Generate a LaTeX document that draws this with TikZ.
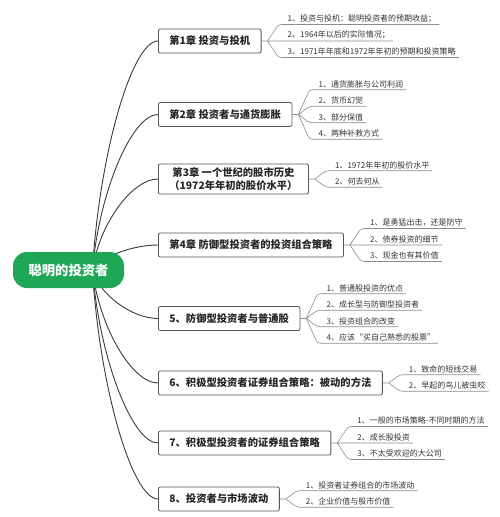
\documentclass[tikz,border=0pt]{standalone}
\usepackage{fontspec}
\setmainfont{Noto Sans CJK SC}
\usetikzlibrary{calc,backgrounds}
\definecolor{MapGreen}{HTML}{1EA855}
\definecolor{MapLine}{HTML}{3A3A3A}
\definecolor{MapEdge}{HTML}{555555}
\definecolor{MapTwig}{HTML}{8C8C8C}
\definecolor{MapText}{HTML}{333333}

\begin{document}
\begin{tikzpicture}[x=1pt, y=-1pt,
  root/.style={fill=MapGreen, text=white, rounded corners=14pt,
               minimum width=111pt, minimum height=36pt,
               font=\fontsize{13.3}{16}\selectfont\bfseries},
  chap/.style={draw=MapEdge, line width=0.8pt, rounded corners=2pt,
               fill=white, anchor=west, inner xsep=11pt, minimum height=24pt,
               align=center, text=black!85,
               font=\fontsize{10.3}{13.5}\selectfont\bfseries},
  leaf/.style={anchor=south west, inner xsep=3pt, inner ysep=1.8pt,
               text=MapText, font=\fontsize{8}{9}\selectfont},
  branch/.style={draw=MapLine, line width=0.9pt,
                 to path={let \p1=(\tikztostart), \p2=(\tikztotarget) in
                   .. controls ({\x1+0.1*(\x2-\x1)},{\y1+0.5*(\y2-\y1)})
                   and ({\x2-0.4*(\x2-\x1)},\y2) .. (\tikztotarget)}},
  twig/.style={draw=MapTwig, line width=0.6pt, rounded corners=3pt}
]
\useasboundingbox (0,0) rectangle (500,517);

\node[root] (root) at (68.5,270) {聪明的投资者};

\node[chap] (c1) at (158,41) {第1章 投资与投机};
\node[chap] (c2) at (158,114.5) {第2章 投资者与通货膨胀};
\node[chap] (c3) at (158,179)
  {第3章 一个世纪的股市历史\\（1972年年初的股价水平）};
\node[chap] (c4) at (158,245) {第4章 防御型投资者的投资组合策略};
\node[chap] (c5) at (158,318.5) {5、防御型投资者与普通股};
\node[chap] (c6) at (158,383) {6、积极型投资者证券组合策略：被动的方法};
\node[chap] (c7) at (158,443) {7、积极型投资者的证券组合策略};
\node[chap] (c8) at (158,499) {8、投资者与市场波动};

\coordinate (hub) at ([xshift=24pt]root.center);
\begin{scope}[on background layer]
  \draw[branch] (hub) to (c1.west);
  \draw[branch] (hub) to (c2.west);
  \draw[branch] (hub) to (c3.west);
  \draw[branch] (hub) to (c4.west);
  \draw[branch] (hub) to (c5.west);
  \draw[branch] (hub) to (c6.west);
  \draw[branch] (hub) to (c7.west);
  \draw[branch] (hub) to (c8.west);
\end{scope}

% chapter 1
\node[leaf] (s1a) at ($(c1.east)+(23,-16.5)$) {1、投资与投机：聪明投资者的预期收益；};
\node[leaf] (s1b) at ($(c1.east)+(23,0)$) {2、1964年以后的实际情况；};
\node[leaf] (s1c) at ($(c1.east)+(23,16.5)$) {3、1971年年底和1972年年初的预期和投资策略};
\draw[twig] (c1.east) -- ++(6,0) coordinate (k1)
  (k1) -- ([xshift=-6pt]s1a.south west) -- (s1a.south east)
  (k1) -- ([xshift=-6pt]s1b.south west) -- (s1b.south east)
  (k1) -- ([xshift=-6pt]s1c.south west) -- (s1c.south east);

% chapter 2
\node[leaf] (s2a) at ($(c2.east)+(23,-24.75)$) {1、通货膨胀与公司利润};
\node[leaf] (s2b) at ($(c2.east)+(23,-8.25)$) {2、货币幻觉};
\node[leaf] (s2c) at ($(c2.east)+(23,8.25)$) {3、部分保值};
\node[leaf] (s2d) at ($(c2.east)+(23,24.75)$) {4、两种补救方式};
\draw[twig] (c2.east) -- ++(6,0) coordinate (k2)
  (k2) -- ([xshift=-6pt]s2a.south west) -- (s2a.south east)
  (k2) -- ([xshift=-6pt]s2b.south west) -- (s2b.south east)
  (k2) -- ([xshift=-6pt]s2c.south west) -- (s2c.south east)
  (k2) -- ([xshift=-6pt]s2d.south west) -- (s2d.south east);

% chapter 3
\node[leaf] (s3a) at ($(c3.east)+(23,-8.25)$) {1、1972年年初的股价水平};
\node[leaf] (s3b) at ($(c3.east)+(23,8.25)$) {2、何去何从};
\draw[twig] (c3.east) -- ++(6,0) coordinate (k3)
  (k3) -- ([xshift=-6pt]s3a.south west) -- (s3a.south east)
  (k3) -- ([xshift=-6pt]s3b.south west) -- (s3b.south east);

% chapter 4
\node[leaf] (s4a) at ($(c4.east)+(23,-16.5)$) {1、是勇猛出击，还是防守};
\node[leaf] (s4b) at ($(c4.east)+(23,0)$) {2、债券投资的细节};
\node[leaf] (s4c) at ($(c4.east)+(23,16.5)$) {3、现金也有其价值};
\draw[twig] (c4.east) -- ++(6,0) coordinate (k4)
  (k4) -- ([xshift=-6pt]s4a.south west) -- (s4a.south east)
  (k4) -- ([xshift=-6pt]s4b.south west) -- (s4b.south east)
  (k4) -- ([xshift=-6pt]s4c.south west) -- (s4c.south east);

% chapter 5
\node[leaf] (s5a) at ($(c5.east)+(23,-24.75)$) {1、普通股投资的优点};
\node[leaf] (s5b) at ($(c5.east)+(23,-8.25)$) {2、成长型与防御型投资者};
\node[leaf] (s5c) at ($(c5.east)+(23,8.25)$) {3、投资组合的改变};
\node[leaf] (s5d) at ($(c5.east)+(23,24.75)$) {4、应该“买自己熟悉的股票”};
\draw[twig] (c5.east) -- ++(6,0) coordinate (k5)
  (k5) -- ([xshift=-6pt]s5a.south west) -- (s5a.south east)
  (k5) -- ([xshift=-6pt]s5b.south west) -- (s5b.south east)
  (k5) -- ([xshift=-6pt]s5c.south west) -- (s5c.south east)
  (k5) -- ([xshift=-6pt]s5d.south west) -- (s5d.south east);

% chapter 6
\node[leaf] (s6a) at ($(c6.east)+(23,-8.25)$) {1、致命的短线交易};
\node[leaf] (s6b) at ($(c6.east)+(23,8.25)$) {2、早起的鸟儿被虫咬};
\draw[twig] (c6.east) -- ++(6,0) coordinate (k6)
  (k6) -- ([xshift=-6pt]s6a.south west) -- (s6a.south east)
  (k6) -- ([xshift=-6pt]s6b.south west) -- (s6b.south east);

% chapter 7
\node[leaf] (s7a) at ($(c7.east)+(23,-16.5)$) {1、一般的市场策略-不同时期的方法};
\node[leaf] (s7b) at ($(c7.east)+(23,0)$) {2、成长股投资};
\node[leaf] (s7c) at ($(c7.east)+(23,16.5)$) {3、不太受欢迎的大公司};
\draw[twig] (c7.east) -- ++(6,0) coordinate (k7)
  (k7) -- ([xshift=-6pt]s7a.south west) -- (s7a.south east)
  (k7) -- ([xshift=-6pt]s7b.south west) -- (s7b.south east)
  (k7) -- ([xshift=-6pt]s7c.south west) -- (s7c.south east);

% chapter 8
\node[leaf] (s8a) at ($(c8.east)+(23,-8.25)$) {1、投资者证券组合的市场波动};
\node[leaf] (s8b) at ($(c8.east)+(23,8.25)$) {2、企业价值与股市价值};
\draw[twig] (c8.east) -- ++(6,0) coordinate (k8)
  (k8) -- ([xshift=-6pt]s8a.south west) -- (s8a.south east)
  (k8) -- ([xshift=-6pt]s8b.south west) -- (s8b.south east);

\end{tikzpicture}
\end{document}
